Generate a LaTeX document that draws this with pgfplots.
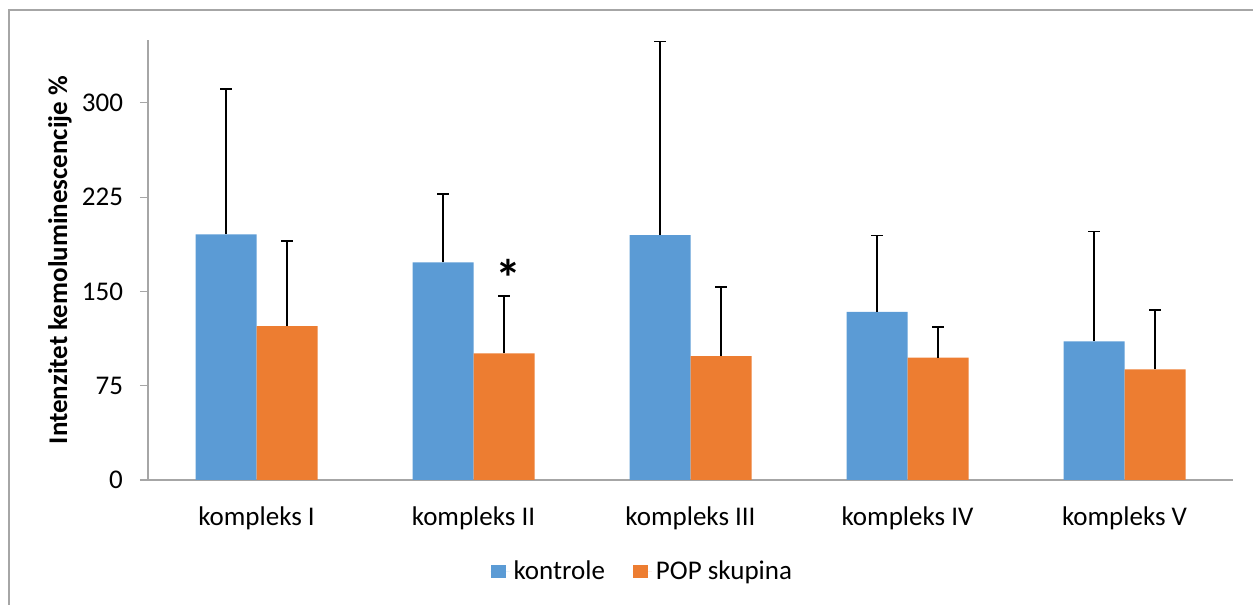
\documentclass[border=0pt]{standalone}
\usepackage{fontspec}
\setmainfont{Carlito}
\usepackage{pgfplots}
\pgfplotsset{compat=1.18}
\definecolor{kblue}{HTML}{5B9BD5}
\definecolor{korange}{HTML}{ED7D31}
\definecolor{axgray}{HTML}{A6A6A6}
\begin{document}
% 1 px of the reference = 0.5pt
\begin{tikzpicture}[font=\fontsize{13.5}{16}\selectfont]
\path[use as bounding box] (0,0) rectangle (626.5pt,302.5pt);
\draw[axgray, line width=0.6pt] (4.5pt,0) -- (4.5pt,297.5pt) -- (626.5pt,297.5pt);
\begin{axis}[
    at={(74pt,62.5pt)}, anchor=south west,
    scale only axis, width=542.5pt, height=220pt,
    ybar=0pt, bar width=30.5pt,
    xmin=-0.5, xmax=4.5, ymin=0, ymax=350,
    xtick={0,1,2,3,4},
    xticklabels={kompleks I, kompleks II, kompleks III, kompleks IV, kompleks V},
    ytick={0,75,150,225,300},
    axis x line*=bottom, axis y line*=left,
    axis line style={axgray, line width=0.6pt, -},
    x tick style={draw=none},
    y tick style={axgray, line width=0.6pt},
    tick align=outside, major tick length=4pt,
    x tick label style={yshift=-6pt},
    y tick label style={xshift=-5pt},
    /pgf/number format/assume math mode=true,
    ylabel={\bfseries Intenzitet kemoluminescencije \%},
    every axis y label/.style={at={(rel axis cs:0,0.5)}, xshift=-44pt, rotate=90, anchor=center},
    legend style={at={(0.4565,-0.209)}, anchor=center, draw=none, legend columns=2,
        /tikz/every even column/.append style={column sep=12pt}},
    legend image code/.code={\fill[#1] (0pt,-3.25pt) rectangle (7.5pt,3.25pt);
        \path (0pt,0pt) -- (9.5pt,0pt);},
    error bars/y dir=plus, error bars/y explicit,
    error bars/error bar style={black, line width=0.75pt},
    error bars/error mark options={rotate=90, mark size=3pt, black, line width=0.75pt},
]
\addplot[fill=kblue, draw=none] coordinates {
    (0,195.3) +- (0,115.6)
    (1,173.1) +- (0,54.3)
    (2,194.8) +- (0,154.2)
    (3,133.8) +- (0,60.5)
    (4,110.3) +- (0,87.4)
};
\addplot[fill=korange, draw=none] coordinates {
    (0,122.4) +- (0,67.9)
    (1,100.7) +- (0,45.8)
    (2,98.6) +- (0,54.9)
    (3,97.3) +- (0,24.3)
    (4,88.0) +- (0,47.4)
};
\legend{kontrole, POP skupina}
\node[font=\fontsize{26}{26}\bfseries\selectfont, inner sep=0pt] at (axis cs:1,161) [xshift=17.5pt] {*};
\end{axis}
\end{tikzpicture}
\end{document}
